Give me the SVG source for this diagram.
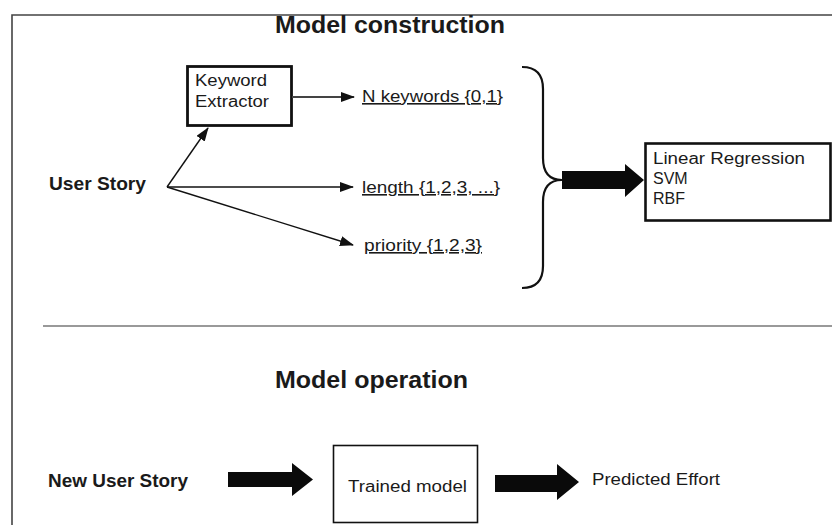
<svg xmlns="http://www.w3.org/2000/svg" width="832" height="525" viewBox="0 0 832 525">
  <defs>
    <marker id="tip" viewBox="0 0 14 10" refX="13" refY="5" markerWidth="14" markerHeight="10" markerUnits="userSpaceOnUse" orient="auto">
      <path d="M0,0 L14,5 L0,10 Z" fill="#111"/>
    </marker>
    <style>
      .lbl { font-family: "Liberation Sans", Arial, sans-serif; fill: #1a1a1a; }
      .bold { font-weight: bold; }
      .title { font-size: 23px; }
      .head { font-size: 18px; }
      .body { font-size: 16px; }
      .ul { text-decoration: underline; }
      .box { fill: #fff; stroke: #111; }
      .thin { stroke: #111; stroke-width: 1.4; fill: none; }
      .fat { fill: #0a0a0a; }
    </style>
  </defs>

  <rect width="832" height="525" fill="#fff"/>

  <!-- outer frame (top and left edges) -->
  <path d="M12,525 L12,15 L832,15" fill="none" stroke="#444" stroke-width="1.6"/>

  <!-- section divider -->
  <line x1="43" y1="326" x2="832" y2="326" stroke="#777" stroke-width="1.5"/>

  <!-- section titles -->
  <text class="lbl bold title" x="275" y="33" textLength="230" lengthAdjust="spacingAndGlyphs">Model construction</text>
  <text class="lbl bold title" x="275" y="388" textLength="193" lengthAdjust="spacingAndGlyphs">Model operation</text>

  <!-- upper section nodes -->
  <g id="user-story">
    <text class="lbl bold head" x="49" y="190" textLength="97" lengthAdjust="spacingAndGlyphs">User Story</text>
  </g>

  <g id="keyword-extractor">
    <rect class="box" x="187.5" y="66.5" width="104" height="59" stroke-width="2.8"/>
    <text class="lbl body" x="195" y="86" textLength="72" lengthAdjust="spacingAndGlyphs">Keyword</text>
    <text class="lbl body" x="195" y="107" textLength="74" lengthAdjust="spacingAndGlyphs">Extractor</text>
  </g>

  <g id="n-keywords">
    <text class="lbl body ul" x="362" y="102" textLength="141" lengthAdjust="spacingAndGlyphs">N keywords {0,1}</text>
  </g>

  <g id="length">
    <text class="lbl body ul" x="362" y="193" textLength="138" lengthAdjust="spacingAndGlyphs">length {1,2,3, ...}</text>
  </g>

  <g id="priority">
    <text class="lbl body ul" x="364" y="251" textLength="118" lengthAdjust="spacingAndGlyphs">priority {1,2,3}</text>
  </g>

  <g id="feature-brace">
    <path d="M522,67 Q543,67 543,89 L543,158 Q543,180 562,180 Q543,180 543,202 L543,266 Q543,288 522,288" fill="none" stroke="#111" stroke-width="2.2"/>
  </g>

  <g id="learners">
    <rect class="box" x="645.5" y="143.5" width="185" height="77" stroke-width="2.6"/>
    <text class="lbl body" x="653" y="164" textLength="152" lengthAdjust="spacingAndGlyphs">Linear Regression</text>
    <text class="lbl body" x="653" y="184">SVM</text>
    <text class="lbl body" x="653" y="204">RBF</text>
  </g>

  <!-- lower section nodes -->
  <g id="new-user-story">
    <text class="lbl bold head" x="48" y="487" textLength="140" lengthAdjust="spacingAndGlyphs">New User Story</text>
  </g>

  <g id="trained-model">
    <rect class="box" x="333.5" y="445.5" width="144" height="77" stroke-width="1.6"/>
    <text class="lbl body" x="348" y="492" textLength="119" lengthAdjust="spacingAndGlyphs">Trained model</text>
  </g>

  <g id="predicted-effort">
    <text class="lbl body" x="592" y="485" textLength="128" lengthAdjust="spacingAndGlyphs">Predicted Effort</text>
  </g>

  <!-- connectors -->
  <g id="connectors">
    <line class="thin" x1="167" y1="187" x2="208" y2="128" marker-end="url(#tip)"/>
    <line x1="292" y1="97" x2="354" y2="97" stroke="#444" stroke-width="2" marker-end="url(#tip)"/>
    <line class="thin" x1="167" y1="187" x2="353" y2="187" marker-end="url(#tip)"/>
    <line class="thin" x1="167" y1="187" x2="353" y2="245" marker-end="url(#tip)"/>

    <!-- block arrows -->
    <path class="fat" d="M562,171 L625,171 L625,164 L644,180 L625,197 L625,189 L562,189 Z"/>
    <path class="fat" d="M228,472 L292,472 L292,463 L313,479.5 L292,496 L292,487 L228,487 Z"/>
    <path class="fat" d="M495,475 L557,475 L557,464 L579,482 L557,500 L557,492 L495,492 Z"/>
  </g>
</svg>
